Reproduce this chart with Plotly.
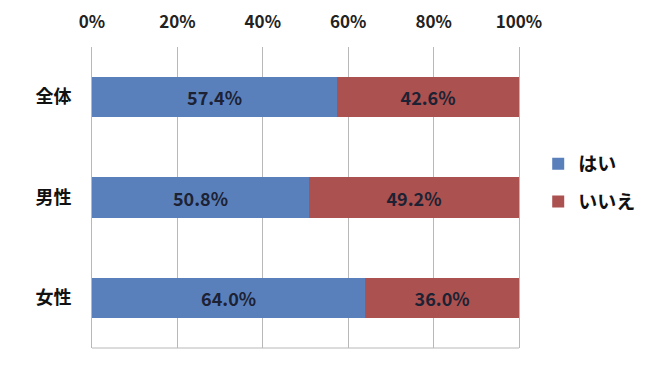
import plotly.graph_objects as go

categories = ["全体", "男性", "女性"]
yes_values = [57.4, 50.8, 64.0]
no_values = [42.6, 49.2, 36.0]
series_names = ["はい", "いいえ"]
tick_vals = [0, 20, 40, 60, 80, 100]
tick_text = ["0%", "20%", "40%", "60%", "80%", "100%"]

FONT = "Noto Sans CJK JP, Noto Sans, sans-serif"
LABEL_COLOR = "#1c2233"
GRID = "#B8B8B8"

fig = go.Figure()
fig.add_trace(go.Bar(
    y=categories, x=yes_values, name=series_names[0], orientation="h",
    legendgroup="a",
    marker=dict(color="#5A80BC", line=dict(width=0)),
    text=[f"{v:.1f}%" for v in yes_values], textposition="inside",
    insidetextanchor="middle",
    textfont=dict(family=FONT, size=18, color=LABEL_COLOR, weight="bold"),
))
fig.add_trace(go.Bar(
    y=categories, x=no_values, name=series_names[1], orientation="h",
    legendgroup="b",
    marker=dict(color="#AB514F", line=dict(width=0)),
    text=[f"{v:.1f}%" for v in no_values], textposition="inside",
    insidetextanchor="middle",
    textfont=dict(family=FONT, size=18, color=LABEL_COLOR, weight="bold"),
))

fig.update_layout(
    barmode="stack",
    bargap=0.6,
    width=649, height=360,
    margin=dict(l=84, r=138, t=39, b=20, autoexpand=False),
    paper_bgcolor="white", plot_bgcolor="white",
    font=dict(family=FONT, color="#222222"),
    uniformtext=dict(mode="show", minsize=10),
    xaxis=dict(
        side="top", range=[0, 100], tickvals=tick_vals, ticktext=tick_text,
        showgrid=True, gridcolor=GRID, gridwidth=1, automargin=False,
        zeroline=False, showline=False, ticks="", ticklen=0,
        ticklabelstandoff=15,
        tickfont=dict(family=FONT, size=17, color="#222222", weight="bold"),
        fixedrange=True,
    ),
    yaxis=dict(
        autorange="reversed", showgrid=False, zeroline=False, automargin=False,
        showline=True, mirror=True, linecolor=GRID, linewidth=1,
        ticks="", ticklabelstandoff=16,
        tickfont=dict(family=FONT, size=18, color="#111111", weight="bold"),
    ),
    legend=dict(
        x=1.045, y=0.675, xanchor="left", yanchor="top",
        font=dict(family=FONT, size=19, color="#111111", weight="bold"),
        tracegroupgap=10, itemwidth=30, traceorder="grouped",
    ),
    showlegend=True,
)
fig.add_shape(type="line", xref="paper", yref="paper", x0=0, x1=1, y0=0, y1=0,
              line=dict(color=GRID, width=1))

fig.write_html("out.html")
